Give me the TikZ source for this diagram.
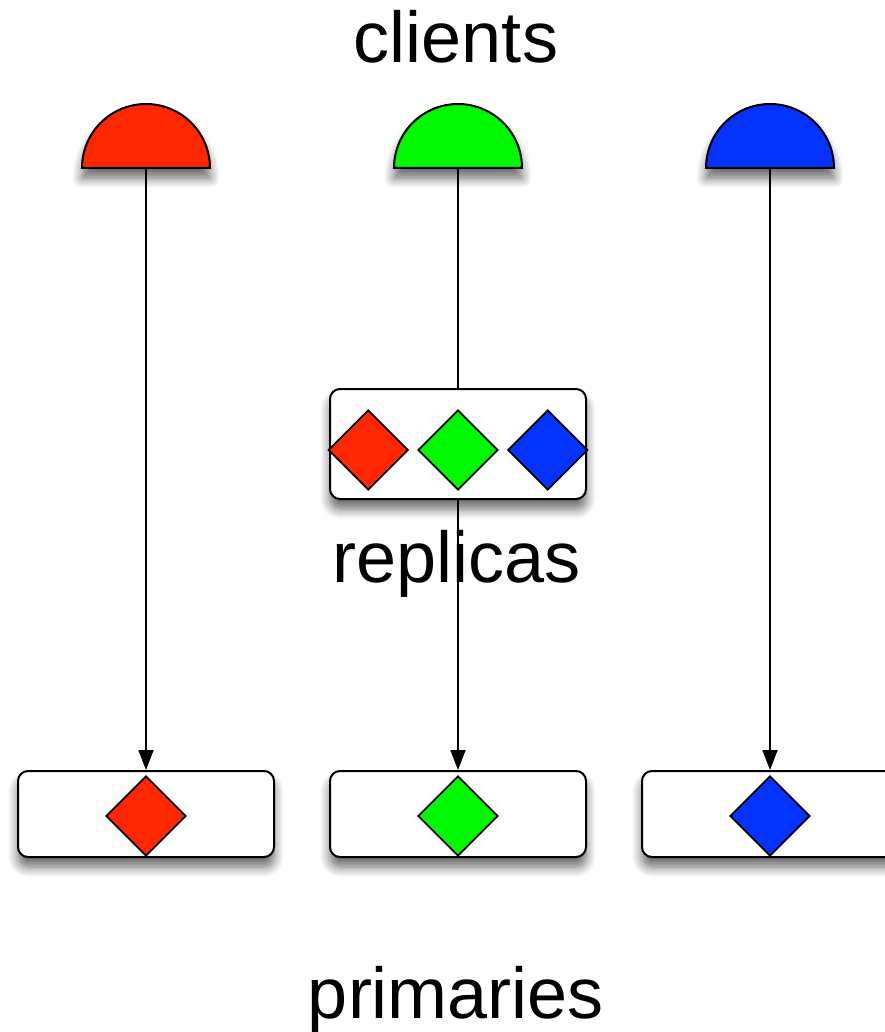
\documentclass[tikz,border=0pt]{standalone}
\usepackage{fontspec}
\setmainfont{Liberation Sans}
\usetikzlibrary{shapes.geometric,arrows.meta,shadows.blur,positioning}

\definecolor{cred}{RGB}{255,38,0}
\definecolor{cgreen}{RGB}{0,249,0}
\definecolor{cblue}{RGB}{4,51,255}

\tikzset{
	shade/.style={blur shadow={shadow xshift=0pt, shadow yshift=-10pt, shadow blur radius=10pt, shadow blur steps=8, shadow opacity=60}},
	client/.style={shape=semicircle, draw, line width=2pt, minimum width=128pt, minimum height=64pt, inner sep=0pt, outer sep=0pt, anchor=chord center, shade},
	box/.style={rectangle, rounded corners=10pt, draw, line width=2pt, fill=white, minimum width=256pt, inner sep=0pt, shade},
	gem/.style={diamond, draw, line width=1.8pt, minimum width=80pt, minimum height=80pt, inner sep=0pt, aspect=1},
	link/.style={line width=1.6pt, -{Triangle[length=20pt,width=15pt]}},
	label/.style={font=\fontsize{72}{80}\selectfont, anchor=base}
}

\begin{document}
\begin{tikzpicture}[x=1pt, y=-1pt]
	\useasboundingbox (0,0) rectangle (884,1032);

	% clients
	\node (c1) [client, fill=cred] at (146,168) {};
	\node (c2) [client, fill=cgreen] at (458,168) {};
	\node (c3) [client, fill=cblue] at (770,168) {};

	% primaries
	\node (p1) [box, minimum height=86pt] at (146,814) {};
	\node (p2) [box, minimum height=86pt] at (458,814) {};
	\node (p3) [box, minimum height=86pt] at (770,814) {};
	\node (d1) [gem, fill=cred] at (146,816) {};
	\node (d2) [gem, fill=cgreen] at (458,816) {};
	\node (d3) [gem, fill=cblue] at (770,816) {};

	\draw[link] (c1.chord center) -- (p1.north);
	\draw[link] (c2.chord center) -- (p2.north);
	\draw[link] (c3.chord center) -- (p3.north);

	% replicas sit on top of the middle line
	\node (rep) [box, minimum height=110pt] at (458,444) {};
	\node (rg) [gem, fill=cgreen] at (458,450) {};
	\node (rr) [gem, fill=cred, left=8pt of rg] {};
	\node (rb) [gem, fill=cblue, right=8pt of rg] {};

	\node (tc) [label] at (456,63) {clients};
	\node (tr) [label] at (457,582) {replicas};
	\node (tp) [label] at (456,1018) {primaries};
\end{tikzpicture}
\end{document}
